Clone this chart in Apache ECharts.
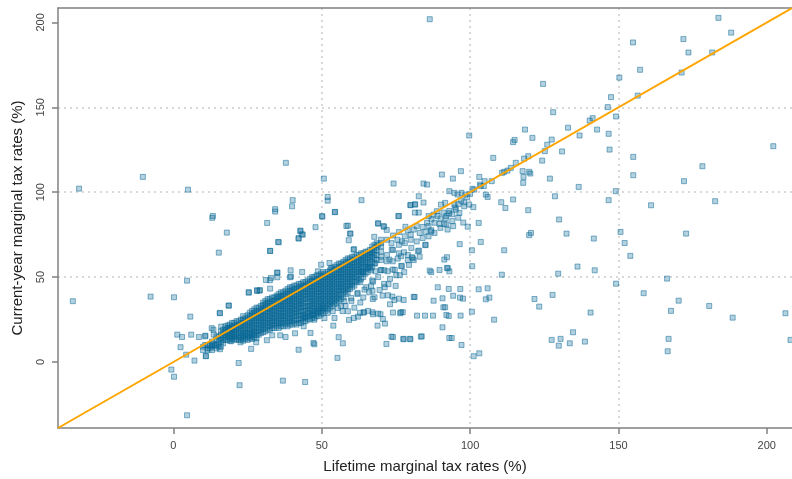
<!DOCTYPE html>
<html><head><meta charset="utf-8">
<script src="https://cdn.jsdelivr.net/npm/echarts@6/dist/echarts.min.js"></script>
<style>html,body{margin:0;padding:0;background:#fff}#chart{width:792px;height:479px}</style>
</head><body><div id="chart"></div>
<script>
const xTicks = [0, 50, 100, 150, 200];
const yTicks = [0, 50, 100, 150, 200];
const axisRange = [-38.9, 208.5];

// dense core: [lifetime rate, [current-year rates...]]
const denseColumns = [
  [10, [7, 9]],
  [11.5, [7, 8, 10]],
  [13, [7, 9, 10, 12]],
  [14.5, [8, 10, 13, 15]],
  [16, [9, 12, 14, 16, 18]],
  [17.5, [13, 14.5, 16, 17.5, 19, 21]],
  [19, [12.5, 14, 15.5, 17, 18.5, 20, 22]],
  [20.5, [13, 14.5, 16, 17.5, 19, 21, 23]],
  [22, [13, 14.5, 16, 18, 20, 22, 24]],
  [23.5, [12.5, 14, 15.5, 17, 19, 21, 23, 25, 27]],
  [25, [13, 14.5, 16, 17.5, 19.5, 21.5, 23.5, 25.5, 27.5]],
  [26.5, [13.5, 15, 16.5, 18, 20, 22, 24, 26, 28, 30]],
  [28, [14, 16, 18, 20, 22, 24, 26, 28, 30, 32]],
  [29.5, [17, 19, 21, 23, 25, 27, 29, 31, 33]],
  [31, [18, 20, 22, 24, 26, 28, 30, 32, 34, 36]],
  [32.5, [19, 21, 23, 25, 27, 29, 31, 33, 35, 37]],
  [34, [20, 22, 24, 26, 28, 30, 32, 34, 36, 38]],
  [35.5, [20, 22, 24, 26, 28, 30, 32, 34, 36, 38, 40]],
  [37, [21, 23, 25, 27, 29, 31, 33, 35, 37, 39, 41]],
  [38.5, [21, 23, 25, 27, 29, 31, 33, 35, 37, 39, 41, 43]],
  [40, [22, 24, 26, 28, 30, 32, 34, 36, 38, 40, 42, 44]],
  [41.5, [22, 24.5, 27, 29, 31, 33, 35, 37, 39, 41, 43, 45]],
  [43, [23, 25, 27, 29.5, 32, 34, 36, 38, 40, 42, 44, 46]],
  [44.5, [24, 26, 28, 30, 32, 34.5, 37, 39, 41, 43, 45, 47]],
  [46, [25, 27, 29, 31, 33, 35, 37, 39, 41, 43, 45, 47, 49]],
  [47.5, [26, 28, 30, 32, 34, 36, 38, 40, 42, 44, 46, 48, 50]],
  [49, [27, 29, 31, 33, 35, 37, 39, 41, 43, 45, 47, 49, 51]],
  [50.5, [29, 31, 33, 35, 37, 39, 41, 43, 45, 47, 49, 51, 53]],
  [52, [31, 33, 35, 37, 39, 41, 43, 45, 47, 49, 51, 53]],
  [53.5, [33, 35, 37, 39, 41, 43, 45, 47, 49, 51, 53, 55]],
  [55, [35, 37, 39, 41, 43, 45, 47, 49, 51, 53, 55, 57]],
  [56.5, [37, 39.5, 42, 44, 46, 48, 50, 52, 54, 56, 58]],
  [58, [40, 42, 44, 46, 48, 50, 52, 54, 56, 58, 60]],
  [59.5, [43, 45, 47, 49, 51, 53, 55, 57, 59, 61]],
  [61, [45, 47.5, 50, 52, 54, 56, 58, 60, 62]],
  [62.5, [48, 51, 53, 55, 57, 59, 61, 63]],
  [64, [50, 53, 56, 58, 60, 62, 64]],
  [65.5, [53, 56, 59, 61, 63, 65]],
  [67, [56, 59, 62, 64, 66, 68]],
  [68.5, [60, 63, 66, 68, 70]],
  [70, [62, 65, 68, 70, 72]]
];

// second, interleaved pass through the same dense core
const denseColumnsB = [
  [12.25, [8, 9.5]],
  [15.25, [9, 11, 13, 15]],
  [16.75, [11, 13, 15, 17, 19]],
  [18.25, [13, 15, 16.5, 18, 20, 21.5]],
  [19.75, [13.5, 15, 16.5, 18, 19.5, 21, 23]],
  [21.25, [13.5, 15, 17, 19, 20.5, 22, 24]],
  [22.75, [13, 15, 17, 19, 21, 23, 25]],
  [24.25, [13.5, 15, 16.5, 18, 20, 22, 24, 26]],
  [25.75, [14, 15.5, 17, 19, 21, 23, 25, 27, 29]],
  [27.25, [14.5, 16, 17.5, 19, 21, 23, 25, 27, 29, 31]],
  [28.75, [16, 18, 20, 22, 24, 26, 28, 30, 32]],
  [30.25, [17.5, 19.5, 21.5, 23.5, 25.5, 27.5, 29.5, 31.5, 33.5, 35]],
  [31.75, [19, 21, 23, 25, 27, 29, 31, 33, 35, 37]],
  [33.25, [20, 22, 24, 26, 28, 30, 32, 34, 36, 38]],
  [34.75, [21, 23, 25, 27, 29, 31, 33, 35, 37, 39]],
  [36.25, [21, 23, 25, 27, 29, 31, 33, 35, 37, 39, 41]],
  [37.75, [22, 24, 26, 28, 30, 32, 34, 36, 38, 40, 42]],
  [39.25, [22, 24, 26, 28, 30, 32, 34, 36, 38, 40, 42, 44]],
  [40.75, [23, 25, 27, 29, 31, 33, 35, 37, 39, 41, 43, 45]],
  [42.25, [23, 25.5, 28, 30, 32, 34, 36, 38, 40, 42, 44, 46]],
  [43.75, [24, 26, 28, 30.5, 33, 35, 37, 39, 41, 43, 45, 47]],
  [45.25, [25, 27, 29, 31, 33, 35.5, 38, 40, 42, 44, 46, 48]],
  [46.75, [26, 28, 30, 32, 34, 36, 38, 40, 42, 44, 46, 48, 50]],
  [48.25, [27, 29, 31, 33, 35, 37, 39, 41, 43, 45, 47, 49, 51]],
  [49.75, [28, 30, 32, 34, 36, 38, 40, 42, 44, 46, 48, 50, 52]],
  [51.25, [30, 32, 34, 36, 38, 40, 42, 44, 46, 48, 50, 52]],
  [52.75, [32, 34, 36, 38, 40, 42, 44, 46, 48, 50, 52, 54]],
  [54.25, [34, 36, 38, 40, 42, 44, 46, 48, 50, 52, 54, 56]],
  [55.75, [36, 38, 40, 42, 44, 46, 48, 50, 52, 54, 56, 58]],
  [57.25, [38, 41, 43, 45, 47, 49, 51, 53, 55, 57, 59]],
  [58.75, [41, 43, 45, 47, 49, 51, 53, 55, 57, 59, 61]],
  [60.25, [44, 46, 48, 50, 52, 54, 56, 58, 60, 62]],
  [61.75, [47, 49, 51, 53, 55, 57, 59, 61, 63]],
  [63.25, [49, 52, 54, 56, 58, 60, 62, 64]],
  [64.75, [52, 55, 57, 59, 61, 63, 65]],
  [66.25, [55, 58, 60, 62, 64, 66]],
  [67.75, [58, 61, 63, 65, 67, 69]]
];

const nearDiagonal = [
  [58.8,80.3],[59.5,75.6],[59.1,71.7],[60.7,66.2],[69,81.5],[71,79.6],[67.7,73.7],[69,69.1],[78.2,79.6],[80.2,67.2],
  [82.4,65.2],[84.9,68.8],[86.9,77.6],[85,76.6],[92.4,78],[94.3,80],[91.3,60.3],[92.2,61.7],[92.2,55.4],[93,53.4],
  [86.9,52.9],[77.8,52.9],[76.3,51.1],[75.1,51.1],[73.9,54.4],[71.1,54],[72.2,53.4],
  [72,72],[73.5,70],[74,74.5],[75.5,72],[76,76.5],[77,71],[78,74],[79,77.5],[80,75],[81,78],[82,80],[83,76],[84,79.5],
  [85.5,82],[86,80],[87,84],[88,82],[89,86],[90,84.5],[91,88],[92,86],[93,89],[94,87],[95,91],[96,93],[97,95],[98,94],
  [99,97],[100,99],[76,69],[78,70],[80,72],[82,71],[84,73],[86,74],[88,76],[90,79],[92,81],[94,83],[96,85],[74,66],
  [76,64],[79,63],[81,60],[83,62],[72,63],[70,60],[68,58],[66,56],[64,53],[63,47],[65,44],[67,48],[69,50],[71,46],
  [73,49],[62,40],[64,38],[66,41],[60,36],[58,33],[57,30],[61,32],[63,35],
  [77,56.4],[79,59.9],[80.4,61.7],[77.7,64.6],[76.7,62.3],[75.6,60.9],[73.9,59.3],[72.8,60.3],[73.6,66.2],[71.9,59.3],
  [69.8,54],[68.1,53.4],[66.6,54],[65.5,55.4],[63.8,53.4],
  [35.5,70.5],[32.6,65.4],[42.8,77.4],[42.2,72.9],[43.3,75.2],[47.9,79.4],[50.2,85.6],[54.4,88.2],[58.3,80.1],[59.7,75.6],
  [60.9,66.4],[69,81.7],[70.8,80.1],[71.9,77.8],[76,86],[79.9,92.5],[81.5,92.9],
  [35.1,52.6],[39.5,54],[43.4,53],[39.6,50.3],[32.5,48.1],[31.2,48.3],[29.2,42.3],[28.2,42.3],[35,49.9],[25.4,41.1],
  [18.7,33.2],[15.7,28.7],[34.9,52.6],[39.3,49.9],[32.9,49.5],[25.4,40.8],[28.2,41.8],[29,42],[32.6,43.2],[35.2,38.3],
  [48.7,53.4],[49.8,57.3],[52.6,58.3],[53.1,55.4],
  [67.1,42],[69.5,42.4],[71.2,44],[72.5,45.8],[73.8,38.5],[76,37.3],[77.6,36.5],[67.3,47.3],[70.1,54.2],[74.6,54.2],
  [76.8,56.6],[79.4,57.2],[80.7,61.1],[82.8,65.6],[85,69],[86.4,53.8],[89.7,54.2],[92.5,55.2],[86.9,76.8],[89.7,81.3],
  [91.8,84.7],[92.9,87.6],
  [103.1,109],[103.3,104.5],[104.9,106.5],[107.3,106.5],[104.6,103.6],[103.6,103.6],[100.8,102],[98.4,98.6],[97.1,99.6],
  [95.8,98.6],[94.7,99.6],[93,100.6],[91.6,93.7],[90.2,92.7],[88.8,88.8],[87.7,86.8],[86,85.9],[94.7,92.7],[95.2,89.7],
  [98,91.7],[96.4,87.8],[101.4,101.5],
  [110.8,111.4],[111.5,112],[112.6,112.7],[113.7,114.3],[115.4,117.3],[117.7,112.4],[119.9,112],[120.3,111],[118,109],
  [117.9,105.5],[118.2,119.8],[119.6,121.2],[124.3,118.6],[125.2,124.2],[107.8,120.2],[114.5,129.5],[115,130.8],
  [118.5,136.9],[121,132],[126,128],[127.5,131],[131,124],[133,138]
];

const belowBand = [
  [46.2,17.1],[53.9,21.4],[59.2,24.8],[60.8,25.9],[62.9,28.9],[64.1,29.3],[67.1,29.3],[69,28.5],[47,27.9],[48.7,29.9],
  [50.3,31.8],[52,28.9],[53.7,29.9],[55.4,31.8],[56.5,32.8],[50.9,25.9],[47.5,24.9],[57.6,35.8],[59.9,37.7],[62.1,40.7],
  [64.4,42.6],[66.6,44.6],[58.8,29.9],[54.3,25.9],
  [73,34],[74.5,36.5],[74.9,44.8],[72.3,39.3],[70.5,39.1],[67.8,38.1],[67.2,37.1],[76.7,29.3],[77.3,29.3],[71.3,22.6],
  [70.6,25.3],[68.8,21.4],[62.2,26.7],[64.2,29.1],[65.6,30.1],[67.3,28.1],[69.8,28.1],[74,29.1],[76.4,28.7],[82.1,27.3],
  [87.5,27.3],[92,27.7],[84.8,27.3],[81.3,38.3],[81,38.3],
  [55.7,14.6],[57.1,11],[55.3,2.4],[47.2,11.2],[47.5,10.4],[71.8,10.6],[73.5,14.9],[77.6,13.4],[79.9,13.4],[83.4,14.9],
  [74,14.7],[83.7,15.1],[77.5,13.6],[79.7,13.6],
  [89.1,44],[92.8,43],[96.7,43],[90.7,37.5],[94.3,39],[96.6,37.9],[97.6,37.3],[87.7,36.1],[91,32.2],[91.6,32.2],
  [92.8,27.1],[96.8,27.3],[90.7,20.4],[93,14.1],[93.8,14.1],[97.1,10]
];

const lowLeft = [
  [-33.9,35.8],[-7.7,38.5],[0.2,38.1],[4.6,47.9],[5.7,26.7],[15.6,28.9],[18.6,33.2],[15.3,64.4],[18,76.2],[13.1,84.9],
  [31.6,81.9],[32.6,65.4],[35.3,70.7],[42.2,72.7],[42.8,77],[43.6,75],
  [1.3,16.1],[2.9,14.7],[6,16.1],[8.6,14.7],[10.7,15.1],[2.4,8.7],[4.3,4.3],[7.1,0.8],[11,3.4],[13.5,19],[16.1,20.8],
  [13.6,16.1],[18.6,20],[22,-0.6],[22.3,-13.7],[-0.7,-4.5],[0.2,-8.7],[4.6,-31.4],[36.9,-11],[44.4,-11.8],[42.2,7.2],
  [26.2,7.7],[27.9,11.6],[31.5,12.8],[33.3,15.7],[36,15.7],[37.8,14.7],[41,16.9],[43.9,21],[44.4,26.5],[22.6,11.6],
  [19.5,12.2],[13.5,10.6],[12.9,19.9],[10.8,15.5],[10.7,10],[14,9.6],[15.7,7.5],[10.9,3.5]
];

const highOutliers = [
  [-31.8,102.1],[-10.3,109],[4.9,101.5],[37.9,117.3],[40.2,95.3],[40,91.7],[34.3,90],[34.3,88.6],[13.3,86],
  [86.4,201.9],[124.6,163.8],[128,147.1],[99.7,133.4],[126.9,108],[128.6,97.6],[96.9,112.4],[90.5,110.4],[94.2,108],
  [84.3,105.1],[85.5,104.5],[74.2,105.1],[50.7,108],[52,97.2],[52,95],[54.5,88.4],[63.4,95.3],[50.1,85.9],[75.8,85.9],
  [110.5,94.1],[111.9,90.7],[114.5,95.7],[119.6,89.4],[105.9,97.2],[105.3,98.6],[101.1,91.2],[99.7,92.7],[79.9,92.3],
  [81.4,92.7],[84.3,93.9],[82.7,97.6],[81.4,88],[82.7,88],
  [183.7,202.7],[188,194],[171.9,190.2],[154.9,188.2],[173.6,182.3],[181.6,182.3],[157.3,172.1],[171.3,170.5],
  [150.3,167.5],[156.5,156.9],[147.5,156],[146.4,150.1],[149.2,144.6],[140.3,142.2],[141.3,143.6],[142.8,136.9],
  [136.9,133.4],[146.7,134.4],[147,125.1],[155,120.8],[155,110],[178.3,115.3],[172.1,106.5],[202.2,127.1],[136.6,103.1],
  [149.1,100.6],[146.7,95.3],[161,92.3],[182.6,94.7]
];

const rightOutliers = [
  [130,83.9],[132.5,75.6],[141.7,72.7],[150.7,76.6],[152.1,70.1],[154,62.5],[172.8,75.6],[136.2,56.2],[142,54],[129.7,52],
  [149.2,46.1],[166.4,49.1],[158.5,40.5],[170.3,36.1],[167.7,30.1],[180.6,33],[188.5,26.1],[206.3,28.7],[140.6,29.1],
  [134.7,17.5],[130.5,13.6],[129.9,9.6],[133.6,11],[138.7,12],[166.9,13.6],[166.6,6.3],[208,13],
  [102.9,81.9],[97.7,82.1],[91.3,81.3],[99.2,79.7],[103.6,70.7],[96.5,69.4],[100.6,65.8],[111.5,65.8],[119.9,74.7],
  [120.5,76],[100.7,56.4],[110.7,51.4],[102.9,42.8],[105.9,43.4],[106.5,37.9],[105.3,36.9],[121.7,37.1],[123.3,32.6],
  [127.8,39.5],[108.1,24.9],[127.5,13],[100.6,29.6],[101.2,3.4],[103.1,5.1]
];

const points = [];
denseColumns.concat(denseColumnsB).forEach(([x, ys]) => ys.forEach(y => points.push([x, y])));
points.push(...nearDiagonal, ...belowBand, ...lowLeft, ...highOutliers, ...rightOutliers);

const font = 'Liberation Sans, Arial, sans-serif';
const axisColor = '#808080';
const gridLine = { show: true, showMinLine: false, showMaxLine: false, lineStyle: { type: [2, 4], color: '#cccccc', width: 1.5 } };

const chart = echarts.init(document.getElementById('chart'), null, { renderer: 'canvas' });
chart.setOption({
  animation: false,
  backgroundColor: '#ffffff',
  grid: { left: 58, top: 8, right: 0, bottom: 51 },
  xAxis: [{
    type: 'value', min: axisRange[0], max: axisRange[1],
    name: 'Lifetime marginal tax rates (%)', nameLocation: 'middle', nameGap: 31,
    nameTextStyle: { fontSize: 15, color: '#222', fontFamily: font },
    axisLine: { onZero: false, lineStyle: { color: axisColor, width: 1.5 } },
    axisTick: { customValues: xTicks, length: 6, lineStyle: { color: axisColor, width: 1.5 } },
    axisLabel: { customValues: xTicks, fontSize: 11, color: '#444', margin: 12, fontFamily: font },
    splitLine: gridLine
  }, {
    type: 'value', position: 'top', min: axisRange[0], max: axisRange[1],
    axisLine: { show: true, onZero: false, lineStyle: { color: axisColor, width: 1.5 } },
    axisTick: { show: false }, axisLabel: { show: false }, splitLine: { show: false }
  }],
  yAxis: [{
    type: 'value', min: axisRange[0], max: axisRange[1],
    name: 'Current-year marginal tax rates (%)', nameLocation: 'middle', nameGap: 33,
    nameTextStyle: { fontSize: 15, color: '#222', fontFamily: font },
    axisLine: { show: true, onZero: false, lineStyle: { color: axisColor, width: 1.5 } },
    axisTick: { show: true, customValues: yTicks, length: 6, lineStyle: { color: axisColor, width: 1.5 } },
    axisLabel: { customValues: yTicks, rotate: 90, fontSize: 11, color: '#444', margin: 12, fontFamily: font },
    splitLine: gridLine
  }],
  series: [{
    type: 'scatter', data: points, symbol: 'rect', symbolSize: 5,
    itemStyle: { color: 'rgba(10,105,150,0.38)', borderColor: 'rgba(10,105,150,0.8)', borderWidth: 0.8 },
    z: 2
  }, {
    type: 'line', data: [[axisRange[0], axisRange[0]], [axisRange[1], axisRange[1]]],
    symbol: 'none', lineStyle: { color: '#FFA500', width: 2 }, z: 5, silent: true
  }]
});
</script>
</body></html>
